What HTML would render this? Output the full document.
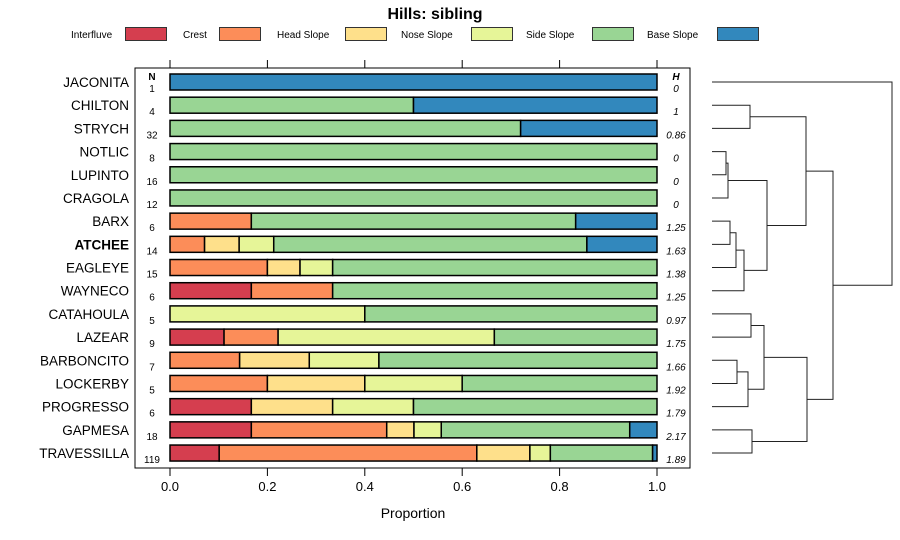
<!DOCTYPE html>
<html><head><meta charset="utf-8"><style>
html,body{margin:0;padding:0;background:#fff;}
svg{display:block;font-family:"Liberation Sans",Arial,sans-serif;}
</style></head><body>
<svg id="c" width="900" height="540" viewBox="0 0 900 540" xmlns="http://www.w3.org/2000/svg">
<text x="435" y="19" text-anchor="middle" font-size="16" font-weight="bold">Hills: sibling</text>
<g id="legend"></g>
<rect x="135" y="68" width="555" height="400" fill="none" stroke="#000" stroke-width="1"/>
<g id="bars"></g>
<g id="axis"></g>
<text x="413" y="518" text-anchor="middle" font-size="14">Proportion</text>
<text x="152" y="80" text-anchor="middle" font-size="10" font-weight="bold">N</text>
<text x="676" y="80" text-anchor="middle" font-size="10" font-weight="bold" font-style="italic">H</text>
<g id="dendro"></g>
</svg>
<script>
const classes=["Interfluve","Crest","Head Slope","Nose Slope","Side Slope","Base Slope"];
const colors=["#D53E4F","#FC8D59","#FEE08B","#E6F598","#99D594","#3288BD"];
const series=["JACONITA","CHILTON","STRYCH","NOTLIC","LUPINTO","CRAGOLA","BARX","ATCHEE","EAGLEYE","WAYNECO","CATAHOULA","LAZEAR","BARBONCITO","LOCKERBY","PROGRESSO","GAPMESA","TRAVESSILLA"];
const nVals=[1,4,32,8,16,12,6,14,15,6,5,9,7,5,6,18,119];
const hVals=["0","1","0.86","0","0","0","1.25","1.63","1.38","1.25","0.97","1.75","1.66","1.92","1.79","2.17","1.89"];
const props=[
[0,0,0,0,0,1],
[0,0,0,0,0.5,0.5],
[0,0,0,0,0.72,0.28],
[0,0,0,0,1,0],
[0,0,0,0,1,0],
[0,0,0,0,1,0],
[0,0.167,0,0,0.666,0.167],
[0,0.071,0.071,0.071,0.643,0.144],
[0,0.2,0.067,0.067,0.666,0],
[0.167,0.167,0,0,0.666,0],
[0,0,0,0.4,0.6,0],
[0.111,0.111,0,0.444,0.334,0],
[0,0.143,0.143,0.143,0.571,0],
[0,0.2,0.2,0.2,0.4,0],
[0.167,0,0.167,0.166,0.5,0],
[0.167,0.278,0.056,0.056,0.387,0.056],
[0.101,0.529,0.109,0.042,0.21,0.009]];
const ticks=[0,0.2,0.4,0.6,0.8,1.0];
const tickLabels=["0.0","0.2","0.4","0.6","0.8","1.0"];
const merges=[[-4,-5,14],[1,-6,16],[-7,-8,18],[3,-9,24],[4,-10,32],[2,5,55],[-2,-3,38],[7,6,94],[-13,-14,25],[9,-15,36],[-11,-12,39],[11,10,52],[-16,-17,40],[12,13,95],[8,14,121],[-1,15,180]];

const NS="http://www.w3.org/2000/svg";
function mk(t,a,p){const e=document.createElementNS(NS,t);for(const k in a)e.setAttribute(k,a[k]);p.appendChild(e);return e;}
const x=v=>170+v*487;
const y=i=>82+i*23.19;
const bars=document.getElementById('bars');
series.forEach((s,i)=>{
  const lab=mk('text',{x:129,y:y(i)+5,'text-anchor':'end','font-size':13.5,'font-weight':s==="ATCHEE"?'bold':'normal'},bars);
  lab.textContent=s;
  
  
  let c=0;
  props[i].forEach((p,j)=>{
    if(p<=0)return;
    const r=mk('rect',{x:x(c),y:y(i)-8,width:x(c+p)-x(c),height:16,fill:colors[j],stroke:'#000','stroke-width':1.5},bars);
    
    
    c+=p;
  });
  const n=mk('text',{x:152,y:y(i)+10,'text-anchor':'middle','font-size':10},bars);
  n.textContent=nVals[i];
  
  
  const h=mk('text',{x:676,y:y(i)+10,'text-anchor':'middle','font-size':10,'font-style':'italic'},bars);
  h.textContent=hVals[i];
  
  
});
const ax=document.getElementById('axis');
ticks.forEach((t,i)=>{
  mk('line',{x1:x(t),x2:x(t),y1:60,y2:68,stroke:'#000'},ax);
  mk('line',{x1:x(t),x2:x(t),y1:468,y2:476,stroke:'#000'},ax);
  const tl=mk('text',{x:x(t),y:491,'text-anchor':'middle','font-size':13},ax);
  tl.textContent=tickLabels[i];
  
  
});
const lg=document.getElementById('legend');
const lgx=[[71,125],[183,219],[277,345],[401,471],[526,592],[647,717]];
classes.forEach((c,i)=>{
  const t=mk('text',{x:lgx[i][0],y:38,'font-size':10},lg);
  t.textContent=c;
  
  
  mk('rect',{x:lgx[i][1]+0.5,y:27.5,width:41,height:13,fill:colors[i],stroke:'#333'},lg);
});
const dg=document.getElementById('dendro');
const dx=h=>712+h;
const info=[];
function node(k){return k<0?{x:dx(0),y:y(-k-1)}:info[k-1];}
merges.forEach(m=>{
  const a=node(m[0]),b=node(m[1]),hx=dx(m[2]);
  const p=mk('path',{d:`M${a.x},${a.y}H${hx}V${b.y}H${b.x}`,fill:'none',stroke:'#222','stroke-width':1},dg);
  
  
  info.push({x:hx,y:(a.y+b.y)/2});
});
</script>
</body></html>
